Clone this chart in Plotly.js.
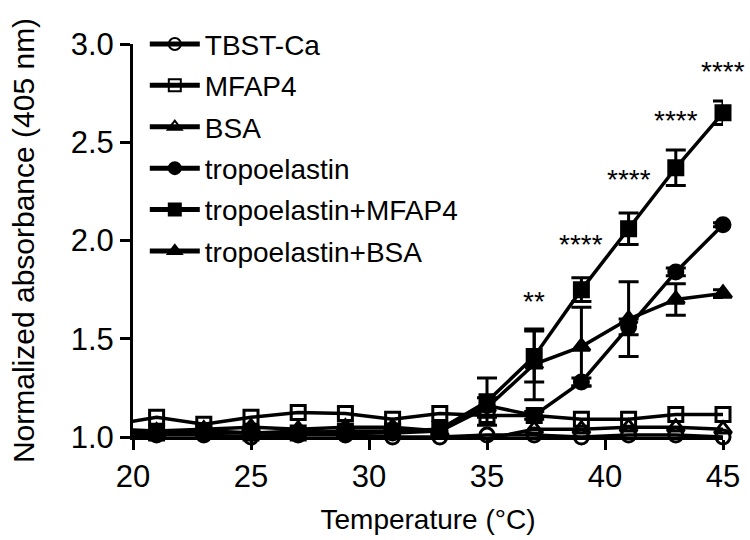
<!DOCTYPE html>
<html>
<head>
<meta charset="utf-8">
<script src="https://cdn.plot.ly/plotly-3.0.1.min.js"></script>
<style>html,body{margin:0;padding:0;background:#fff;}#chart{width:750px;height:540px;}</style>
</head>
<body>
<div id="chart"></div>
<script>
// Temperature points (°C); the first point lies left of the axis start and only its line segment shows
var temps = [19, 21, 23, 25, 27, 29, 31, 33, 35, 37, 39, 41, 43, 45];

var seriesNames = ["TBST-Ca", "MFAP4", "BSA", "tropoelastin", "tropoelastin+MFAP4", "tropoelastin+BSA"];

var tbstCa      = [1.00, 1.01, 1.01, 1.00, 1.01, 1.01, 1.00, 1.00, 1.01, 1.01, 1.00, 1.01, 1.01, 1.00];
var mfap4       = [1.06, 1.10, 1.065, 1.10, 1.125, 1.12, 1.09, 1.12, 1.11, 1.11, 1.09, 1.09, 1.115, 1.115];
var bsa         = [1.03, 1.02, 1.03, 1.02, 1.03, 1.02, 0.99, 0.99, 0.99, 1.04, 1.04, 1.05, 1.05, 1.04];
var tropo       = [1.02, 1.02, 1.02, 1.02, 1.02, 1.02, 1.02, 1.03, 1.16, 1.11, 1.28, 1.56, 1.84, 2.08];
var tropoMfap4  = [1.03, 1.02, 1.03, 1.02, 1.02, 1.03, 1.03, 1.04, 1.18, 1.41, 1.75, 2.06, 2.37, 2.65];
var tropoBsa    = [1.04, 1.03, 1.04, 1.05, 1.04, 1.05, 1.05, 1.03, 1.15, 1.37, 1.46, 1.60, 1.70, 1.73];

// error (SD) values; null = bar too small to be seen
var errTbstCa     = [null, null, null, null, null, null, null, null, null, null, null, null, null, null];
var errMfap4      = [null, null, null, null, null, null, null, null, null, null, null, null, null, null];
var errBsa        = [null, null, null, null, null, null, null, null, null, null, null, null, null, null];
var errTropo      = [null, null, null, null, null, null, null, null, null, 0.02, 0.02, 0.04, 0.02, 0.01];
var errTropoMfap4 = [null, null, null, null, null, null, null, null, 0.12, 0.13, 0.06, 0.08, 0.09, 0.06];
var errTropoBsa   = [null, null, null, null, null, null, null, null, 0.05, 0.18, 0.20, 0.19, 0.08, 0.02];

// significance labels
var sigX = [37, 39, 41, 43, 45];
var sigY = [1.71, 2.00, 2.33, 2.63, 2.88];
var sigText = ["**", "****", "****", "****", "****"];

var xTicks = [20, 25, 30, 35, 40, 45];
var yTicks = [1.0, 1.5, 2.0, 2.5, 3.0];

var FONT = "Liberation Sans, Arial, Helvetica, sans-serif";
var seriesValues = [tbstCa, mfap4, bsa, tropo, tropoMfap4, tropoBsa];
var seriesErrors = [errTbstCa, errMfap4, errBsa, errTropo, errTropoMfap4, errTropoBsa];
var symbols = ["circle-open", "square-open", "triangle-up-open", "circle", "square", "triangle-up"];
var msize = [14, 14, 15, 14, 14, 15];

var traces = seriesNames.map(function (name, i) {
  return {
    type: "scatter",
    mode: "lines+markers",
    name: name,
    legendgroup: "g" + i,
    x: temps,
    y: seriesValues[i],
    cliponaxis: false,
    line: { color: "#000", width: 3.5 },
    marker: {
      symbol: symbols[i],
      color: "#000",
      opacity: 1,
      size: temps.map(function (t) { return t < 20 ? 0 : msize[i]; }),
      line: { color: "#000", width: 3 }
    },
    error_y: {
      type: "data",
      array: seriesErrors[i].map(function (e) { return e === null ? NaN : e; }),
      visible: true,
      color: "#000",
      thickness: 3,
      width: 10
    }
  };
});

var annotations = sigX.map(function (x, i) {
  return {
    x: x, y: sigY[i], xref: "x", yref: "y",
    text: sigText[i], showarrow: false,
    xanchor: "center", yanchor: "middle", yshift: -4,
    font: { family: FONT, size: 28, color: "#000" }
  };
});

var layout = {
  width: 750, height: 540,
  paper_bgcolor: "#fff", plot_bgcolor: "#fff",
  margin: { l: 133, r: 27, t: 44, b: 103 },
  font: { family: FONT, size: 28, color: "#000" },
  showlegend: true,
  legend: {
    x: 0.020, y: 1.063, xanchor: "left", yanchor: "top",
    bgcolor: "rgba(0,0,0,0)", borderwidth: 0,
    font: { family: FONT, size: 28, color: "#000" },
    itemwidth: 50, traceorder: "grouped", tracegroupgap: 2, itemsizing: "constant"
  },
  xaxis: {
    range: [20, 45], tickvals: xTicks, ticktext: xTicks.map(String),
    showline: true, linecolor: "#000", linewidth: 3, mirror: false,
    ticks: "outside", ticklen: 10, tickwidth: 3, tickcolor: "#000",
    showgrid: false, zeroline: false,
    tickfont: { family: FONT, size: 31, color: "#000" },
    title: { text: "Temperature (°C)", font: { family: FONT, size: 28, color: "#000" }, standoff: 17 }
  },
  yaxis: {
    range: [1, 3], tickvals: yTicks, ticktext: yTicks.map(function (v) { return v.toFixed(1); }),
    showline: true, linecolor: "#000", linewidth: 3, mirror: false,
    ticks: "outside", ticklen: 10, tickwidth: 3, tickcolor: "#000",
    showgrid: false, zeroline: false,
    tickfont: { family: FONT, size: 31, color: "#000" },
    title: { text: "Normalized absorbance (405 nm)", font: { family: FONT, size: 30, color: "#000" }, standoff: 28 }
  },
  annotations: annotations
};

Plotly.newPlot("chart", traces, layout, { displayModeBar: false, staticPlot: true });
</script>
</body>
</html>
